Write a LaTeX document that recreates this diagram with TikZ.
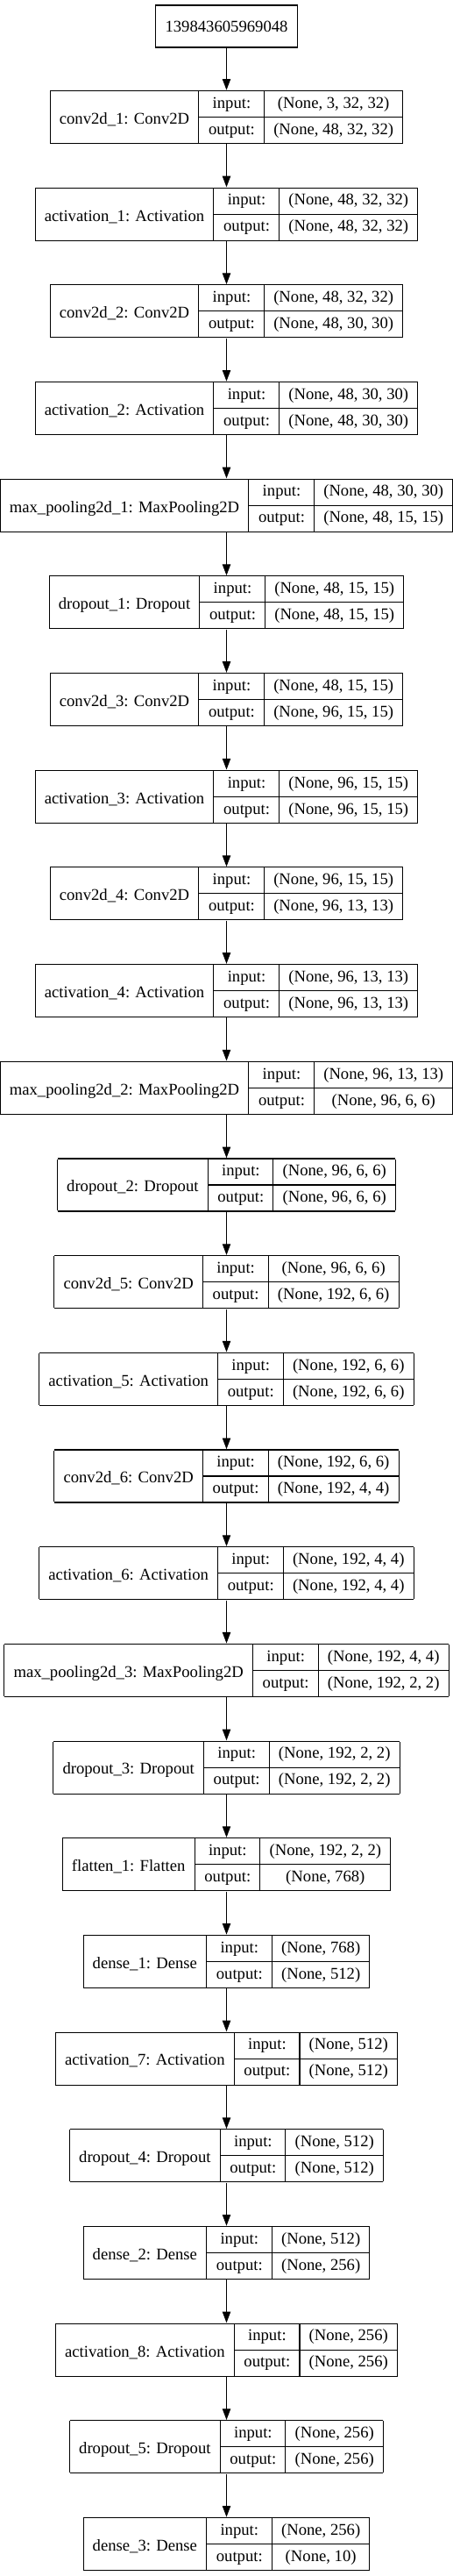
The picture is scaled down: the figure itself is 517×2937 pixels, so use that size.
\documentclass[tikz,border=0pt]{standalone}
\usepackage{fontspec}
\setmainfont{Liberation Serif}
\usepackage{tikz}
\usetikzlibrary{arrows.meta}

\setlength{\arrayrulewidth}{0.8pt}
\setlength{\tabcolsep}{8pt}
\newcommand{\rowstrut}{\rule[-7.3pt]{0pt}{21.7pt}}
% one keras layer record: name | input:/output: | shapes
\newcommand{\layerrec}[3]{%
  \begin{tabular}{|c|@{}c@{}|}\hline
    \raisebox{-2.3pt}{#1} &
    \begin{tabular}{c|c}
      \rowstrut input: & #2\\\hline
      \rowstrut output: & #3
    \end{tabular}\\\hline
  \end{tabular}}

\begin{document}
\begin{tikzpicture}[x=0.75pt, y=0.75pt,
    record/.style={inner sep=0pt, font=\fontsize{14}{16.8}\selectfont},
    inbox/.style={draw, line width=0.8pt, minimum height=36pt, inner xsep=8pt, font=\fontsize{14}{16.8}\selectfont},
    edge/.style={-{Triangle[length=9.5pt,width=7pt]}, line width=0.8pt}]
    \useasboundingbox (0,0) rectangle (517,-2937);

    % Input node
    \node[inbox] (in) at (258.5,-30) {139843605969048};

    % Convolution block 1
    \node[record] (c1) at (258.5,-133.5) {\layerrec{conv2d\_1: Conv2D}{(None, 3, 32, 32)}{(None, 48, 32, 32)}};
    \node[record] (a1) at (258.5,-244.2) {\layerrec{activation\_1: Activation}{(None, 48, 32, 32)}{(None, 48, 32, 32)}};
    \node[record] (c2) at (258.5,-354.9) {\layerrec{conv2d\_2: Conv2D}{(None, 48, 32, 32)}{(None, 48, 30, 30)}};
    \node[record] (a2) at (258.5,-465.5) {\layerrec{activation\_2: Activation}{(None, 48, 30, 30)}{(None, 48, 30, 30)}};
    \node[record] (p1) at (258.5,-576.2) {\layerrec{max\_pooling2d\_1: MaxPooling2D}{(None, 48, 30, 30)}{(None, 48, 15, 15)}};
    \node[record] (d1) at (258.5,-686.9) {\layerrec{dropout\_1: Dropout}{(None, 48, 15, 15)}{(None, 48, 15, 15)}};

    % Convolution block 2
    \node[record] (c3) at (258.5,-797.6) {\layerrec{conv2d\_3: Conv2D}{(None, 48, 15, 15)}{(None, 96, 15, 15)}};
    \node[record] (a3) at (258.5,-908.3) {\layerrec{activation\_3: Activation}{(None, 96, 15, 15)}{(None, 96, 15, 15)}};
    \node[record] (c4) at (258.5,-1018.9) {\layerrec{conv2d\_4: Conv2D}{(None, 96, 15, 15)}{(None, 96, 13, 13)}};
    \node[record] (a4) at (258.5,-1129.6) {\layerrec{activation\_4: Activation}{(None, 96, 13, 13)}{(None, 96, 13, 13)}};
    \node[record] (p2) at (258.5,-1240.3) {\layerrec{max\_pooling2d\_2: MaxPooling2D}{(None, 96, 13, 13)}{(None, 96, 6, 6)}};
    \node[record] (d2) at (258.5,-1351.0) {\layerrec{dropout\_2: Dropout}{(None, 96, 6, 6)}{(None, 96, 6, 6)}};

    % Convolution block 3
    \node[record] (c5) at (258.5,-1461.7) {\layerrec{conv2d\_5: Conv2D}{(None, 96, 6, 6)}{(None, 192, 6, 6)}};
    \node[record] (a5) at (258.5,-1572.3) {\layerrec{activation\_5: Activation}{(None, 192, 6, 6)}{(None, 192, 6, 6)}};
    \node[record] (c6) at (258.5,-1683.0) {\layerrec{conv2d\_6: Conv2D}{(None, 192, 6, 6)}{(None, 192, 4, 4)}};
    \node[record] (a6) at (258.5,-1793.7) {\layerrec{activation\_6: Activation}{(None, 192, 4, 4)}{(None, 192, 4, 4)}};
    \node[record] (p3) at (258.5,-1904.4) {\layerrec{max\_pooling2d\_3: MaxPooling2D}{(None, 192, 4, 4)}{(None, 192, 2, 2)}};
    \node[record] (d3) at (258.5,-2015.1) {\layerrec{dropout\_3: Dropout}{(None, 192, 2, 2)}{(None, 192, 2, 2)}};

    % Dense head
    \node[record] (f1) at (258.5,-2125.7) {\layerrec{flatten\_1: Flatten}{(None, 192, 2, 2)}{(None, 768)}};
    \node[record] (e1) at (258.5,-2236.4) {\layerrec{dense\_1: Dense}{(None, 768)}{(None, 512)}};
    \node[record] (a7) at (258.5,-2347.1) {\layerrec{activation\_7: Activation}{(None, 512)}{(None, 512)}};
    \node[record] (d4) at (258.5,-2457.8) {\layerrec{dropout\_4: Dropout}{(None, 512)}{(None, 512)}};
    \node[record] (e2) at (258.5,-2568.5) {\layerrec{dense\_2: Dense}{(None, 512)}{(None, 256)}};
    \node[record] (a8) at (258.5,-2679.1) {\layerrec{activation\_8: Activation}{(None, 256)}{(None, 256)}};
    \node[record] (d5) at (258.5,-2789.8) {\layerrec{dropout\_5: Dropout}{(None, 256)}{(None, 256)}};
    \node[record] (e3) at (258.5,-2900.5) {\layerrec{dense\_3: Dense}{(None, 256)}{(None, 10)}};

    % Edges
    \draw[edge] (in) -- (c1);
    \draw[edge] (c1) -- (a1);
    \draw[edge] (a1) -- (c2);
    \draw[edge] (c2) -- (a2);
    \draw[edge] (a2) -- (p1);
    \draw[edge] (p1) -- (d1);
    \draw[edge] (d1) -- (c3);
    \draw[edge] (c3) -- (a3);
    \draw[edge] (a3) -- (c4);
    \draw[edge] (c4) -- (a4);
    \draw[edge] (a4) -- (p2);
    \draw[edge] (p2) -- (d2);
    \draw[edge] (d2) -- (c5);
    \draw[edge] (c5) -- (a5);
    \draw[edge] (a5) -- (c6);
    \draw[edge] (c6) -- (a6);
    \draw[edge] (a6) -- (p3);
    \draw[edge] (p3) -- (d3);
    \draw[edge] (d3) -- (f1);
    \draw[edge] (f1) -- (e1);
    \draw[edge] (e1) -- (a7);
    \draw[edge] (a7) -- (d4);
    \draw[edge] (d4) -- (e2);
    \draw[edge] (e2) -- (a8);
    \draw[edge] (a8) -- (d5);
    \draw[edge] (d5) -- (e3);
\end{tikzpicture}
\end{document}
